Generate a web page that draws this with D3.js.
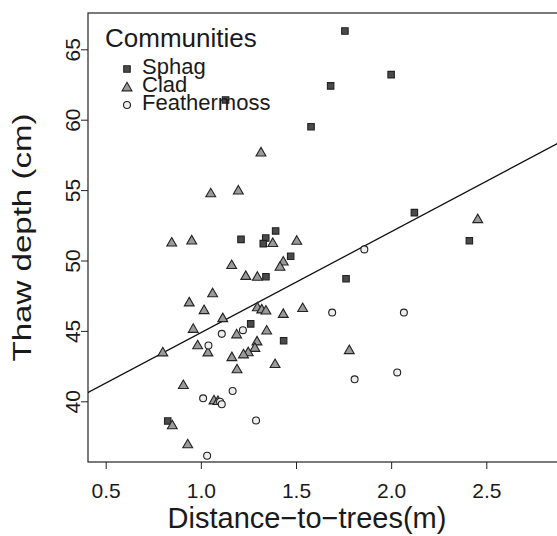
<!doctype html>
<html>
<head>
  <meta charset="UTF-8">
  <title>Thaw depth vs distance to trees</title>
  <script src="https://cdn.jsdelivr.net/npm/d3@7"></script>
  <style>
    body { margin: 0; background: #fff; }
    text { font-family: "Liberation Sans", Arial, sans-serif; fill: #1a1a1a; }
    .axis path { display: none; }
    .axis line { stroke: #222; stroke-width: 1px; }
    .axis text { font-size: 21px; }
  </style>
</head>
<body>
<script>
  // Sphagnum plots: [distance (m), thaw depth (cm)]
  var sphag = [
    [1.757, 66.3], [2.0, 63.2], [1.682, 62.4], [1.579, 59.5], [1.13, 61.4],
    [2.122, 53.4], [2.411, 51.4], [1.763, 48.7], [1.211, 51.5], [1.393, 52.1],
    [1.341, 51.6], [1.328, 51.2], [1.472, 50.3], [1.342, 48.85], [1.262, 45.5],
    [1.435, 44.3], [0.826, 38.6]
  ];

  // Cladina plots
  var clad = [
    [1.316, 57.7], [1.197, 55.0], [1.052, 54.8], [0.847, 51.3], [0.952, 51.45],
    [1.378, 51.27], [1.504, 51.43], [2.455, 52.96], [1.162, 49.7], [1.433, 49.95],
    [1.416, 49.58], [1.236, 48.93], [1.297, 48.87], [1.062, 47.7], [0.939, 47.05],
    [1.017, 46.5], [1.297, 46.7], [1.32, 46.55], [1.342, 46.47], [1.433, 46.23],
    [1.535, 46.65], [1.115, 45.93], [0.96, 45.17], [1.188, 44.78], [1.346, 45.05],
    [1.295, 44.28], [0.983, 44.0], [1.037, 43.5], [1.284, 43.82], [1.249, 43.51],
    [1.224, 43.36], [1.163, 43.16], [0.8, 43.5], [1.39, 42.67], [1.19, 42.3],
    [0.908, 41.18], [1.069, 40.09], [1.09, 40.05], [0.85, 38.32], [0.931, 36.97],
    [1.78, 43.66]
  ];

  // Feathermoss plots
  var feather = [
    [1.859, 50.79], [1.69, 46.3], [2.067, 46.3], [1.808, 41.56], [2.032, 42.05],
    [1.11, 44.79], [1.221, 45.05], [1.04, 43.96], [1.012, 40.21], [1.101, 39.97],
    [1.11, 39.79], [1.167, 40.73], [1.29, 38.64], [1.033, 36.13]
  ];

  var xTicks = [0.5, 1.0, 1.5, 2.0, 2.5];
  var yTicks = [40, 45, 50, 55, 60, 65];
  var groups = ["Sphag", "Clad", "Feathermoss"];
  // fitted line: intercept, slope
  var fit = [37.7, 7.17];

  var width = 557, height = 536;
  var box = { left: 88, top: 13, right: 560, bottom: 462 };

  var xScale = d3.scaleLinear().domain([0.5, 2.5]).range([105.7, 486.3]);
  var yScale = d3.scaleLinear().domain([40, 65]).range([401.3, 49.3]);

  var svg = d3.select("body").append("svg")
    .attr("width", width)
    .attr("height", height);

  svg.append("defs").append("clipPath")
    .attr("id", "plotclip")
    .append("rect")
    .attr("x", box.left).attr("y", box.top)
    .attr("width", box.right - box.left).attr("height", box.bottom - box.top);

  // axes
  var xAxis = d3.axisBottom(xScale)
    .tickValues(xTicks)
    .tickFormat(d3.format(".1f"))
    .tickSizeOuter(0)
    .tickSize(7);

  var gx = svg.append("g")
    .attr("class", "x axis")
    .attr("transform", "translate(0," + box.bottom + ")")
    .call(xAxis);
  gx.selectAll("text").attr("dy", null).attr("y", 36);

  var yAxis = d3.axisLeft(yScale)
    .tickValues(yTicks)
    .tickSizeOuter(0)
    .tickSize(7);

  var gy = svg.append("g")
    .attr("class", "y axis")
    .attr("transform", "translate(" + box.left + ",0)")
    .call(yAxis);
  gy.selectAll("text")
    .attr("x", null).attr("dy", null).attr("y", null)
    .attr("text-anchor", "middle")
    .attr("transform", "translate(-8,0) rotate(-90)");

  // box
  svg.append("rect")
    .attr("x", box.left).attr("y", box.top)
    .attr("width", box.right - box.left).attr("height", box.bottom - box.top)
    .attr("fill", "none")
    .attr("stroke", "#222")
    .attr("stroke-width", 1.2);

  // axis titles
  svg.append("text")
    .attr("x", 307).attr("y", 528)
    .attr("text-anchor", "middle")
    .attr("font-size", "29px")
    .text("Distance\u2212to\u2212trees(m)");

  svg.append("text")
    .attr("transform", "translate(31," + ((box.top + box.bottom) / 2) + ") rotate(-90)")
    .attr("text-anchor", "middle")
    .attr("font-size", "26px")
    .attr("textLength", 248)
    .attr("lengthAdjust", "spacingAndGlyphs")
    .text("Thaw depth (cm)");

  // regression line
  var x0 = xScale.invert(box.left - 5), x1 = xScale.invert(box.right + 5);
  svg.append("line")
    .attr("clip-path", "url(#plotclip)")
    .attr("x1", xScale(x0)).attr("y1", yScale(fit[0] + fit[1] * x0))
    .attr("x2", xScale(x1)).attr("y2", yScale(fit[0] + fit[1] * x1))
    .attr("stroke", "#111")
    .attr("stroke-width", 1.3);

  var pts = svg.append("g").attr("clip-path", "url(#plotclip)");

  var sqSym = d3.symbol().type(d3.symbolSquare).size(42);
  var triSym = d3.symbol().type(d3.symbolTriangle).size(42);
  var cirSym = d3.symbol().type(d3.symbolCircle).size(38);

  var styles = [
    { data: sphag, sym: sqSym, fill: "#4a4a4a", dy: 0 },
    { data: clad, sym: triSym, fill: "#9a9a9a", dy: 1 },
    { data: feather, sym: cirSym, fill: "#eeeeee", dy: 0 }
  ];

  styles.forEach(function(s) {
    pts.selectAll(null)
      .data(s.data)
      .enter().append("path")
      .attr("d", s.sym)
      .attr("transform", function(d) {
        return "translate(" + xScale(d[0]) + "," + (yScale(d[1]) + s.dy) + ")";
      })
      .attr("fill", s.fill)
      .attr("stroke", "#222")
      .attr("stroke-width", 1.1);
  });

  // legend
  var legend = svg.append("g");
  legend.append("text")
    .attr("x", 105).attr("y", 47)
    .attr("font-size", "26px")
    .text("Communities");

  var leg = legend.selectAll("g.item")
    .data(groups)
    .enter().append("g")
    .attr("class", "item")
    .attr("transform", function(d, i) { return "translate(0," + (74 + i * 18) + ")"; });

  leg.append("path")
    .attr("d", function(d, i) { return styles[i].sym(); })
    .attr("transform", function(d, i) { return "translate(127," + (-5 + styles[i].dy) + ")"; })
    .attr("fill", function(d, i) { return styles[i].fill; })
    .attr("stroke", "#222")
    .attr("stroke-width", 1.1);

  leg.append("text")
    .attr("x", 142).attr("y", 0)
    .attr("font-size", "22px")
    .text(function(d) { return d; });
</script>
</body>
</html>
